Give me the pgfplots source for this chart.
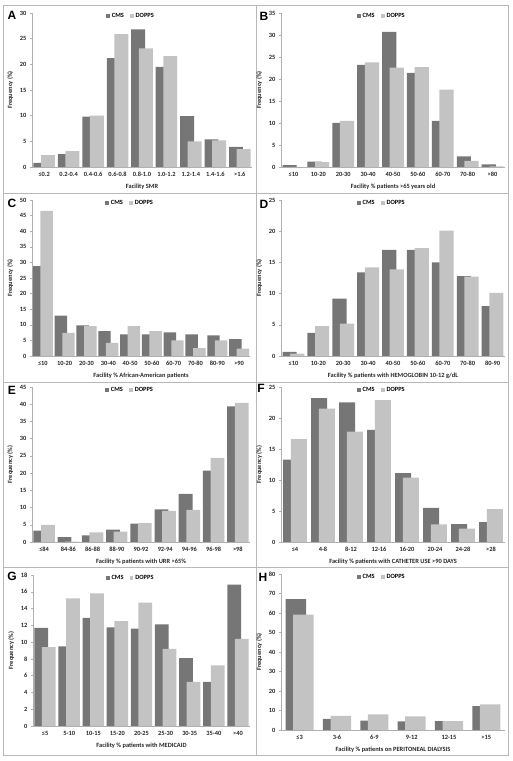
\documentclass[border=0pt]{standalone}
\usepackage{pgfplots}
\pgfplotsset{compat=1.18}
\usepackage{fontspec}
\setmainfont{Carlito}
\newfontfamily\letterfont{Liberation Sans}
\definecolor{cmsc}{HTML}{767676}
\definecolor{dopc}{HTML}{C3C3C3}
\definecolor{frm}{HTML}{B8B8B8}
\definecolor{axl}{HTML}{B0B0B0}
\pgfplotsset{
  panel/.style={
    scale only axis,
    anchor=south west,
    axis lines*=left,
    axis line style={draw=axl, line width=0.6pt},
    ymin=0,
    xtick style={draw=none},
    ytick style={draw=axl, line width=0.5pt},
    major tick length=2pt,
    tick align=outside,
    ytick pos=left,
    xtick pos=bottom,
    tick label style={font=\fontsize{6.4}{7}\selectfont\bfseries, text=black!85},
    /pgf/number format/assume math mode=true,
    label style={font=\fontsize{6.4}{7}\selectfont\bfseries, text=black!85},
    ylabel={Frequency (\%)},
    legend style={draw=none, fill=none, at={(0.45,1)}, anchor=north, yshift=3pt,
      legend columns=2, font=\fontsize{6.4}{7}\selectfont\bfseries, inner sep=1pt,
      /tikz/every even column/.append style={column sep=4pt}},
    bar width=0.57,
  },
  cms/.style={ybar, fill=cmsc, draw=none, bar shift=-3.8pt,
    legend image code/.code={\fill[cmsc] (0pt,-1.9pt) rectangle (3.8pt,1.9pt);}},
  dop/.style={ybar, fill=dopc, draw=none, bar shift=3.8pt,
    legend image code/.code={\fill[dopc] (0pt,-1.9pt) rectangle (3.8pt,1.9pt);}},
}
\begin{document}
\begin{tikzpicture}
\useasboundingbox (0pt,0pt) rectangle (512pt,761pt);
% frames
\begin{scope}[draw=frm, line width=0.5pt]
\draw (3pt,568pt) rectangle (256pt,756pt);
\draw (256pt,568pt) rectangle (508pt,756pt);
\draw (3pt,379pt) rectangle (256pt,568pt);
\draw (256pt,379pt) rectangle (508pt,568pt);
\draw (3pt,194pt) rectangle (256pt,379pt);
\draw (256pt,194pt) rectangle (508pt,379pt);
\draw (3pt,6pt) rectangle (256pt,194pt);
\draw (256pt,6pt) rectangle (508pt,194pt);
\end{scope}
% A
\begin{axis}[panel, at={(32pt,594pt)}, width=220pt, height=154pt,
  xmin=-0.5, xmax=8.5, ymax=30, ytick={0,5,...,30},
  xtick={0,...,8}, xticklabels={≤0.2,0.2-0.4,0.4-0.6,0.6-0.8,0.8-1.0,1.0-1.2,1.2-1.4,1.4-1.6,>1.6},
  xlabel={Facility SMR}]
\addplot[cms] coordinates {(0,0.8)(1,2.5)(2,9.8)(3,21.2)(4,26.8)(5,19.5)(6,9.9)(7,5.4)(8,3.9)};
\addplot[dop] coordinates {(0,2.3)(1,3.1)(2,10.0)(3,25.9)(4,23.1)(5,21.6)(6,5.0)(7,5.2)(8,3.5)};
\legend{CMS,DOPPS}
\end{axis}
% B
\begin{axis}[panel, at={(281pt,594pt)}, width=224pt, height=154pt,
  xmin=-0.5, xmax=8.5, ymax=35, ytick={0,5,...,35},
  xtick={0,...,8}, xticklabels={≤10,10-20,20-30,30-40,40-50,50-60,60-70,70-80,>80},
  xlabel={Facility \% patients >65 years old}]
\addplot[cms] coordinates {(0,0.45)(1,1.2)(2,10.0)(3,23.2)(4,30.7)(5,21.4)(6,10.5)(7,2.4)(8,0.6)};
\addplot[dop] coordinates {(0,0.05)(1,1.1)(2,10.5)(3,23.8)(4,22.6)(5,22.7)(6,17.6)(7,1.4)(8,0.15)};
\legend{CMS,DOPPS}
\end{axis}
% C
\begin{axis}[panel, at={(32pt,405pt)}, width=218pt, height=156pt,
  xmin=-0.5, xmax=9.5, ymax=50, ytick={0,5,...,50},
  xtick={0,...,9}, xticklabels={≤10,10-20,20-30,30-40,40-50,50-60,60-70,70-80,80-90,>90},
  xlabel={Facility \% African-American patients}]
\addplot[cms] coordinates {(0,28.8)(1,12.9)(2,9.8)(3,8.0)(4,6.9)(5,6.9)(6,7.6)(7,6.9)(8,6.6)(9,5.4)};
\addplot[dop] coordinates {(0,46.5)(1,7.4)(2,9.6)(3,4.2)(4,9.6)(5,8.0)(6,5.0)(7,2.5)(8,5.0)(9,2.4)};
\legend{CMS,DOPPS}
\end{axis}
% D
\begin{axis}[panel, at={(281pt,405pt)}, width=224pt, height=156pt,
  xmin=-0.5, xmax=8.5, ymax=25, ytick={0,5,...,25},
  xtick={0,...,8}, xticklabels={≤10,10-20,20-30,30-40,40-50,50-60,60-70,70-80,80-90},
  xlabel={Facility \% patients with HEMOGLOBIN 10-12 g/dL}]
\addplot[cms] coordinates {(0,0.65)(1,3.7)(2,9.2)(3,13.4)(4,17.0)(5,17.0)(6,15.0)(7,12.8)(8,8.0)};
\addplot[dop] coordinates {(0,0.4)(1,4.8)(2,5.2)(3,14.2)(4,13.9)(5,17.3)(6,20.1)(7,12.7)(8,10.1)};
\legend{CMS,DOPPS}
\end{axis}
% E
\begin{axis}[panel, at={(32pt,219pt)}, width=218pt, height=155pt,
  xmin=-0.5, xmax=8.5, ymax=45, ytick={0,5,...,45},
  xtick={0,...,8}, xticklabels={≤84,84-86,86-88,88-90,90-92,92-94,94-96,96-98,>98},
  xlabel={Facility \% patients with URR >65\%}]
\addplot[cms] coordinates {(0,3.3)(1,1.45)(2,1.9)(3,3.6)(4,5.3)(5,9.5)(6,14.0)(7,20.7)(8,39.4)};
\addplot[dop] coordinates {(0,5.0)(1,0.1)(2,2.8)(3,3.0)(4,5.5)(5,9.0)(6,9.3)(7,24.4)(8,40.4)};
\legend{CMS,DOPPS}
\end{axis}
% F
\begin{axis}[panel, at={(281pt,219pt)}, width=224pt, height=155pt,
  xmin=-0.5, xmax=7.5, ymax=25, ytick={0,5,...,25},
  xtick={0,...,7}, xticklabels={≤4,4-8,8-12,12-16,16-20,20-24,24-28,>28},
  xlabel={Facility \% patients with CATHETER USE >90 DAYS}]
\addplot[cms] coordinates {(0,13.3)(1,23.2)(2,22.5)(3,18.1)(4,11.1)(5,5.5)(6,2.9)(7,3.2)};
\addplot[dop] coordinates {(0,16.6)(1,21.5)(2,17.8)(3,22.9)(4,10.4)(5,2.85)(6,2.15)(7,5.3)};
\legend{CMS,DOPPS}
\end{axis}
% G
\begin{axis}[panel, at={(33pt,35pt)}, width=217pt, height=151pt,
  xmin=-0.5, xmax=8.5, ymax=18, ytick={0,2,...,18},
  xtick={0,...,8}, xticklabels={≤5,5-10,10-15,15-20,20-25,25-30,30-35,35-40,>40},
  xlabel={Facility \% patients with MEDICAID}]
\addplot[cms] coordinates {(0,11.7)(1,9.5)(2,12.9)(3,11.75)(4,11.6)(5,12.1)(6,8.1)(7,5.26)(8,16.85)};
\addplot[dop] coordinates {(0,9.4)(1,15.2)(2,15.8)(3,12.5)(4,14.7)(5,9.2)(6,5.26)(7,7.24)(8,10.4)};
\legend{CMS,DOPPS}
\end{axis}
% H
\begin{axis}[panel, at={(281pt,31pt)}, width=224pt, height=156pt,
  xmin=-0.5, xmax=5.5, ymax=80, ytick={0,10,...,80}, bar width=0.55,
  xtick={0,...,5}, xticklabels={≤3,3-6,6-9,9-12,12-15,>15},
  xlabel={Facility \% patients on PERITONEAL DIALYSIS}]
\addplot[cms] coordinates {(0,67.1)(1,5.65)(2,4.8)(3,4.45)(4,4.6)(5,12.3)};
\addplot[dop] coordinates {(0,59.2)(1,7.2)(2,8.0)(3,7.0)(4,4.5)(5,13.2)};
\legend{CMS,DOPPS}
\end{axis}
% letters
\begin{scope}[every node/.style={font=\letterfont\bfseries\fontsize{12}{13}\selectfont, inner sep=0pt}]
\node at (12pt,746pt) {A};
\node at (264pt,745pt) {B};
\node at (12pt,558pt) {C};
\node at (264pt,557pt) {D};
\node at (12pt,371pt) {E};
\node at (261pt,373pt) {F};
\node at (12pt,185pt) {G};
\node at (263pt,184pt) {H};
\end{scope}
\end{tikzpicture}
\end{document}
